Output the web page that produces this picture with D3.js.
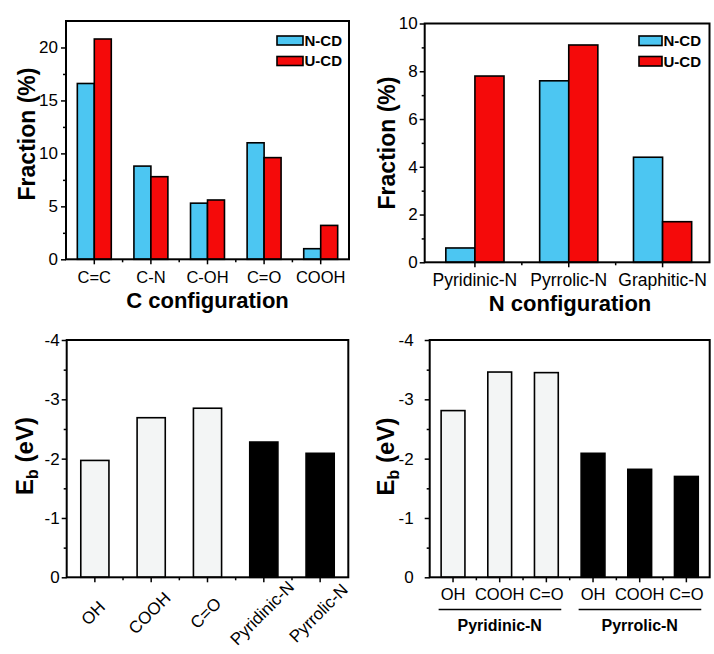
<!DOCTYPE html>
<html><head><meta charset="utf-8">
<script src="https://cdn.jsdelivr.net/npm/d3@7"></script>
<style>body{margin:0;background:#fff}svg{display:block;font-family:Arial,"Liberation Sans",sans-serif}</style>
</head><body><svg id="c" width="714" height="654"></svg>
<script>
// ---------- data ----------
const cCategories = ["C=C", "C-N", "C-OH", "C=O", "COOH"];
const cNCD = [16.6, 8.8, 5.3, 11.0, 1.0];
const cUCD = [20.8, 7.8, 5.6, 9.6, 3.2];
const nCategories = ["Pyridinic-N", "Pyrrolic-N", "Graphitic-N"];
const nNCD = [0.6, 7.6, 4.4];
const nUCD = [7.8, 9.1, 1.7];
const seriesNames = ["N-CD", "U-CD"];
const seriesColors = ["#4cc6f2", "#f50a0a"];
const fracTicks = [0, 5, 10, 15, 20];
const nTicks = [0, 2, 4, 6, 8, 10];
const ebTicks = [0, -1, -2, -3, -4];
const ebCategories = ["OH", "COOH", "C=O", "Pyridinic-N", "Pyrrolic-N"];
const ebValues = [-1.97, -2.69, -2.85, -2.28, -2.09];
const ebKind = ["O", "O", "O", "N", "N"];
const eb2Categories = ["OH", "COOH", "C=O", "OH", "COOH", "C=O"];
const eb2Values = [-2.81, -3.46, -3.45, -2.09, -1.82, -1.70];
const eb2Groups = ["Pyridinic-N", "Pyrrolic-N"];
const eb2GroupOf = [0, 0, 0, 1, 1, 1];
const kindFill = {O: "#f3f5f5", N: "#000000"};

const svg = d3.select("#c");
const FONT = 16.5;

function frame(g, x0, x1, y0, y1) {
  g.append("rect").attr("x", x0).attr("y", y0).attr("width", x1 - x0).attr("height", y1 - y0)
    .attr("fill", "none").attr("stroke", "#000").attr("stroke-width", 2);
}
function yAxis(g, y, x0, ticks, minor, pad) {
  const ax = d3.axisLeft(y).tickValues(ticks).tickSize(5).tickPadding(pad).tickFormat(d => String(d));
  const a = g.append("g").attr("transform", `translate(${x0},0)`).call(ax);
  a.select(".domain").remove();
  a.selectAll("line").attr("stroke-width", 1.5);
  a.selectAll("text").attr("font-size", FONT + 0.5).attr("fill", "#000").style("font-family", "Arial, 'Liberation Sans', sans-serif");
  const m = g.append("g").attr("transform", `translate(${x0},0)`)
    .call(d3.axisLeft(y).tickValues(minor).tickSize(3).tickFormat(""));
  m.select(".domain").remove();
  m.selectAll("line").attr("stroke-width", 1.5);
}
function xTicks(g, positions, minorPositions, y0) {
  g.selectAll(null).data(positions).join("line")
    .attr("x1", d => d).attr("x2", d => d).attr("y1", y0).attr("y2", y0 + 5)
    .attr("stroke", "#000").attr("stroke-width", 1.5);
  g.selectAll(null).data(minorPositions).join("line")
    .attr("x1", d => d).attr("x2", d => d).attr("y1", y0).attr("y2", y0 + 3)
    .attr("stroke", "#000").attr("stroke-width", 1.5);
}

// ---------- Panel 1 ----------
(function () {
  const L = 66, R = 349, T = 21, B = 259.3;
  const g = svg.append("g");
  const y = d3.scaleLinear().domain([0, 22.5]).range([B, T]);
  const x = d3.scaleBand().domain(cCategories).range([L, R]).paddingInner(0.4).paddingOuter(0.2);
  const xs = d3.scaleBand().domain(seriesNames).range([0, x.bandwidth()]);
  const data = cCategories.map((c, i) => ({c, v: [cNCD[i], cUCD[i]]}));
  data.forEach(d => {
    d.v.forEach((v, k) => {
      g.append("rect").attr("x", x(d.c) + xs(seriesNames[k])).attr("y", y(v))
        .attr("width", xs.bandwidth()).attr("height", y(0) - y(v))
        .attr("fill", seriesColors[k]).attr("stroke", "#000").attr("stroke-width", 1.6);
    });
  });
  frame(g, L, R, T, B);
  yAxis(g, y, L, fracTicks, [2.5, 7.5, 12.5, 17.5], 3);
  xTicks(g, cCategories.map(c => x(c) + x.bandwidth() / 2),
    d3.range(1, cCategories.length).map(i => L + i * (R - L) / cCategories.length), B);
  g.selectAll(null).data(cCategories).join("text")
    .attr("x", c => x(c) + x.bandwidth() / 2).attr("y", 283).attr("text-anchor", "middle")
    .attr("font-size", FONT).text(c => c);
  g.append("text").attr("x", 207.5).attr("y", 308).attr("text-anchor", "middle")
    .attr("font-size", 22).attr("font-weight", "bold").text("C configuration");
  g.append("text").attr("transform", "translate(35,134) rotate(-90)").attr("text-anchor", "middle")
    .attr("font-size", 23).attr("font-weight", "bold").text("Fraction (%)");
  seriesNames.forEach((s, k) => {
    g.append("rect").attr("x", 277).attr("y", 36 + k * 20.5).attr("width", 26).attr("height", 9)
      .attr("fill", seriesColors[k]).attr("stroke", "#000").attr("stroke-width", 1.6);
    g.append("text").attr("x", 304.5).attr("y", 45.5 + k * 20.5).attr("font-size", 15)
      .attr("font-weight", "bold").text(s);
  });
})();

// ---------- Panel 2 ----------
(function () {
  const L = 424.7, R = 709.5, T = 23.5, B = 262.3;
  const g = svg.append("g");
  const y = d3.scaleLinear().domain([0, 10]).range([B, T]);
  const x = d3.scaleBand().domain(nCategories).range([428, R]).paddingInner(0.38).paddingOuter(0.19);
  const xs = d3.scaleBand().domain(seriesNames).range([0, x.bandwidth()]);
  nCategories.forEach((c, i) => {
    [nNCD[i], nUCD[i]].forEach((v, k) => {
      g.append("rect").attr("x", x(c) + xs(seriesNames[k])).attr("y", y(v))
        .attr("width", xs.bandwidth()).attr("height", y(0) - y(v))
        .attr("fill", seriesColors[k]).attr("stroke", "#000").attr("stroke-width", 1.6);
    });
  });
  frame(g, L, R, T, B);
  yAxis(g, y, L, nTicks, [1, 3, 5, 7, 9], 2);
  const centers = nCategories.map(c => x(c) + x.bandwidth() / 2);
  xTicks(g, centers, [(centers[0] + centers[1]) / 2, (centers[1] + centers[2]) / 2], B);
  g.selectAll(null).data(nCategories).join("text")
    .attr("x", c => x(c) + x.bandwidth() / 2).attr("y", 286).attr("text-anchor", "middle")
    .attr("font-size", 17.5).text(c => c);
  g.append("text").attr("x", 570).attr("y", 311).attr("text-anchor", "middle")
    .attr("font-size", 22).attr("font-weight", "bold").text("N configuration");
  g.append("text").attr("transform", "translate(395,143) rotate(-90)").attr("text-anchor", "middle")
    .attr("font-size", 23).attr("font-weight", "bold").text("Fraction (%)");
  seriesNames.forEach((s, k) => {
    g.append("rect").attr("x", 639).attr("y", 36 + k * 20.5).attr("width", 23).attr("height", 9.5)
      .attr("fill", seriesColors[k]).attr("stroke", "#000").attr("stroke-width", 1.6);
    g.append("text").attr("x", 663.5).attr("y", 46 + k * 20.5).attr("font-size", 15)
      .attr("font-weight", "bold").text(s);
  });
})();

function ebTitle(g, x, y) {
  const t = g.append("text").attr("transform", `translate(${x},${y}) rotate(-90)`).attr("text-anchor", "middle")
    .attr("font-size", 24).attr("font-weight", "bold");
  t.append("tspan").text("E");
  t.append("tspan").attr("font-size", 16).attr("dy", 5).text("b");
  t.append("tspan").attr("dy", -5).text(" (eV)");
}

// ---------- Panel 3 ----------
(function () {
  const L = 66.7, R = 348.3, T = 340, B = 577.3;
  const g = svg.append("g");
  const y = d3.scaleLinear().domain([0, -4]).range([B, T]);
  const x = d3.scaleBand().domain(ebCategories).range([L, R]).paddingInner(0.5).paddingOuter(0.25);
  g.selectAll(null).data(ebCategories).join("rect")
    .attr("x", c => x(c)).attr("y", (c, i) => y(ebValues[i]))
    .attr("width", x.bandwidth()).attr("height", (c, i) => y(0) - y(ebValues[i]))
    .attr("fill", (c, i) => kindFill[ebKind[i]]).attr("stroke", "#000").attr("stroke-width", 1.6);
  frame(g, L, R, T, B);
  yAxis(g, y, L, ebTicks, [-0.5, -1.5, -2.5, -3.5], 2);
  const centers = ebCategories.map(c => x(c) + x.bandwidth() / 2);
  xTicks(g, centers, d3.range(1, ebCategories.length).map(i => L + i * (R - L) / ebCategories.length), B);
  g.selectAll(null).data(ebCategories).join("text")
    .attr("transform", (c, i) => `translate(${centers[i] - 1.5},${B + 36}) rotate(-45)`)
    .attr("text-anchor", "middle").attr("dominant-baseline", "central")
    .attr("font-size", 17).text(c => c);
  ebTitle(g, 33, 456);
})();

// ---------- Panel 4 ----------
(function () {
  const L = 429.7, R = 709.7, T = 340, B = 577.3;
  const g = svg.append("g");
  const y = d3.scaleLinear().domain([0, -4]).range([B, T]);
  const idx = d3.range(eb2Categories.length);
  const x = d3.scaleBand().domain(idx).range([L, R]).paddingInner(0.49).paddingOuter(0.245);
  g.selectAll(null).data(idx).join("rect")
    .attr("x", i => x(i)).attr("y", i => y(eb2Values[i]))
    .attr("width", x.bandwidth()).attr("height", i => y(0) - y(eb2Values[i]))
    .attr("fill", i => kindFill[eb2GroupOf[i] === 0 ? "O" : "N"]).attr("stroke", "#000").attr("stroke-width", 1.6);
  frame(g, L, R, T, B);
  yAxis(g, y, L, ebTicks, [-0.5, -1.5, -2.5, -3.5], 11);
  const centers = idx.map(i => x(i) + x.bandwidth() / 2);
  xTicks(g, centers, d3.range(1, idx.length).map(i => L + i * (R - L) / idx.length), B);
  g.selectAll(null).data(idx).join("text")
    .attr("x", i => centers[i]).attr("y", 599.5).attr("text-anchor", "middle")
    .attr("font-size", FONT).text(i => eb2Categories[i]);
  eb2Groups.forEach((name, gi) => {
    const members = idx.filter(i => eb2GroupOf[i] === gi);
    const x0 = x(members[0]) - 2.5, x1 = x(members[members.length - 1]) + x.bandwidth() + 3;
    g.append("line").attr("x1", x0).attr("x2", x1).attr("y1", 609.5).attr("y2", 609.5)
      .attr("stroke", "#000").attr("stroke-width", 1.5);
    g.append("text").attr("x", centers[members[1]]).attr("y", 631).attr("text-anchor", "middle")
      .attr("font-size", 16).attr("font-weight", "bold").text(name);
  });
  ebTitle(g, 394, 456.5);
})();
</script>
</body></html>
